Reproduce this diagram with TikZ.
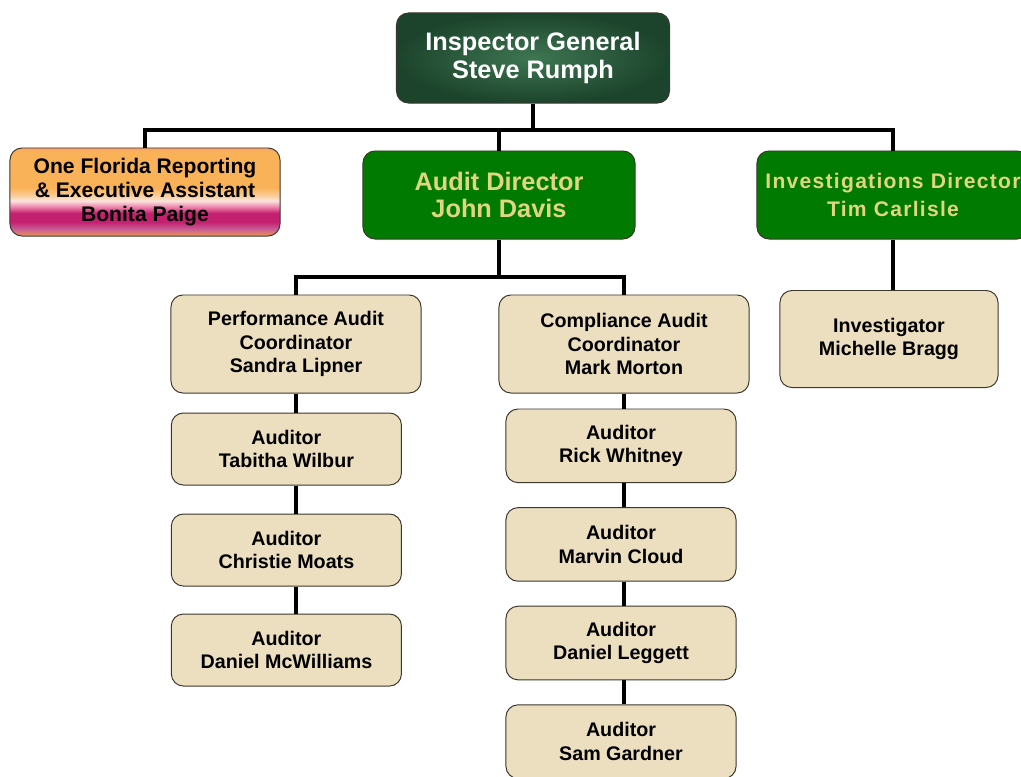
\documentclass[tikz,border=0pt]{standalone}
\usepackage{fontspec}
\setmainfont{Liberation Sans}
\usepackage{xcolor}
\usetikzlibrary{positioning,shadings}

\definecolor{boxline}{RGB}{60,55,45}
\definecolor{marbleLight}{RGB}{62,118,82}
\definecolor{marbleDark}{RGB}{28,68,44}
\definecolor{dirGreen}{RGB}{0,122,0}
\definecolor{dirText}{RGB}{224,214,128}
\definecolor{parchment}{RGB}{236,223,192}
\definecolor{flOrange}{RGB}{250,178,88}
\definecolor{flTop}{RGB}{246,165,110}
\definecolor{flPale}{RGB}{250,205,155}
\definecolor{flWhite}{RGB}{250,228,222}
\definecolor{flPink}{RGB}{236,130,170}
\definecolor{flMagenta}{RGB}{196,32,112}
\definecolor{flPurple}{RGB}{200,92,150}
\definecolor{flBottom}{RGB}{234,150,80}

\pgfdeclareverticalshading{floridashade}{100bp}{color(0bp)=(flBottom); color(25bp)=(flBottom);
  color(29bp)=(flPurple); color(33bp)=(flMagenta); color(38bp)=(flMagenta); color(41.5bp)=(flPink);
  color(45bp)=(flWhite); color(48bp)=(flPale); color(52.5bp)=(flOrange); color(73bp)=(flOrange);
  color(75bp)=(flTop); color(100bp)=(flTop)}

\begin{document}
\begin{tikzpicture}[x=0.025cm, y=-0.025cm, node distance=0.7cm,
    chart/.style={draw=boxline, line width=0.7pt, rounded corners=0.3cm, align=center, inner sep=0pt},
    chief/.style={chart, shade, inner color=marbleLight, outer color=marbleDark, text=white, minimum width=6.825cm, minimum height=2.25cm, font=\bfseries\fontsize{18}{19.5}\selectfont},
    assistant/.style={chart, shade, shading=floridashade, minimum width=6.75cm, minimum height=2.2cm, font=\bfseries\fontsize{15}{17}\selectfont},
    director/.style={chart, fill=dirGreen, text=dirText, minimum width=6.8cm, minimum height=2.2cm},
    coordinator/.style={chart, fill=parchment, minimum width=6.25cm, minimum height=2.45cm, font=\bfseries\fontsize{14}{16.7}\selectfont},
    auditor/.style={chart, fill=parchment, minimum width=5.75cm, minimum height=1.84cm, font=\bfseries\fontsize{14}{16.7}\selectfont},
    link/.style={line width=2.2pt}]
    \useasboundingbox (0,0) rectangle (1021,777);

    \node[chief] (ig) at (533,58) {Inspector General\\Steve Rumph};
    \node[assistant] (one_florida) at (145,192) {One Florida Reporting\\\& Executive Assistant\\Bonita Paige};
    \node[director, font=\bfseries\fontsize{18}{19.5}\selectfont] (audit_dir) at (499,195) {Audit Director\\John Davis};
    \node[director, font=\bfseries\fontsize{15}{19.5}\selectfont\addfontfeature{LetterSpace=6}] (inv_dir) at (893,195) {Investigations Director\\Tim Carlisle};

    \node[coordinator] (perf_coord) at (296,344) {Performance Audit\\Coordinator\\Sandra Lipner};
    \node[coordinator] (comp_coord) at (624,344) {Compliance Audit\\Coordinator\\Mark Morton};
    \node[coordinator, minimum width=5.45cm, minimum height=2.425cm] (investigator) at (889,339) {Investigator\\Michelle Bragg};

    % performance audit team
    \node[auditor, minimum height=1.8cm, below=0.475cm of perf_coord, xshift=-0.24cm] (aud_wilbur) {Auditor\\Tabitha Wilbur};
    \node[auditor, minimum height=1.8cm, below=of aud_wilbur] (aud_moats) {Auditor\\Christie Moats};
    \node[auditor, minimum height=1.8cm, below=0.675cm of aud_moats] (aud_mcwilliams) {Auditor\\Daniel McWilliams};

    % compliance audit team
    \node[auditor, below=0.375cm of comp_coord, xshift=-0.075cm] (aud_whitney) {Auditor\\Rick Whitney};
    \node[auditor, below=0.6cm of aud_whitney] (aud_cloud) {Auditor\\Marvin Cloud};
    \node[auditor, below=0.6cm of aud_cloud] (aud_leggett) {Auditor\\Daniel Leggett};
    \node[auditor, below=0.6cm of aud_leggett] (aud_gardner) {Auditor\\Sam Gardner};

    \coordinate (top_bus) at (533,130);
    \coordinate (audit_bus) at (499,277);

    \draw[link] (ig) -- (top_bus);
    \draw[link] (one_florida.north) |- (top_bus) -| (inv_dir.north);
    \draw[link] (audit_dir.north) -- (audit_dir.north |- top_bus);
    \draw[link] (audit_dir) -- (audit_bus);
    \draw[link] (perf_coord.north) |- (audit_bus) -| (comp_coord.north);
    \draw[link] (inv_dir.south) -- (inv_dir.south |- investigator.north);

    \draw[link] (perf_coord.south) -- (perf_coord.south |- aud_wilbur.north);
    \draw[link] (aud_wilbur.south -| perf_coord) -- (perf_coord |- aud_moats.north);
    \draw[link] (aud_moats.south -| perf_coord) -- (perf_coord |- aud_mcwilliams.north);

    \draw[link] (comp_coord.south) -- (comp_coord.south |- aud_whitney.north);
    \draw[link] (aud_whitney.south -| comp_coord) -- (comp_coord |- aud_cloud.north);
    \draw[link] (aud_cloud.south -| comp_coord) -- (comp_coord |- aud_leggett.north);
    \draw[link] (aud_leggett.south -| comp_coord) -- (comp_coord |- aud_gardner.north);
\end{tikzpicture}
\end{document}
